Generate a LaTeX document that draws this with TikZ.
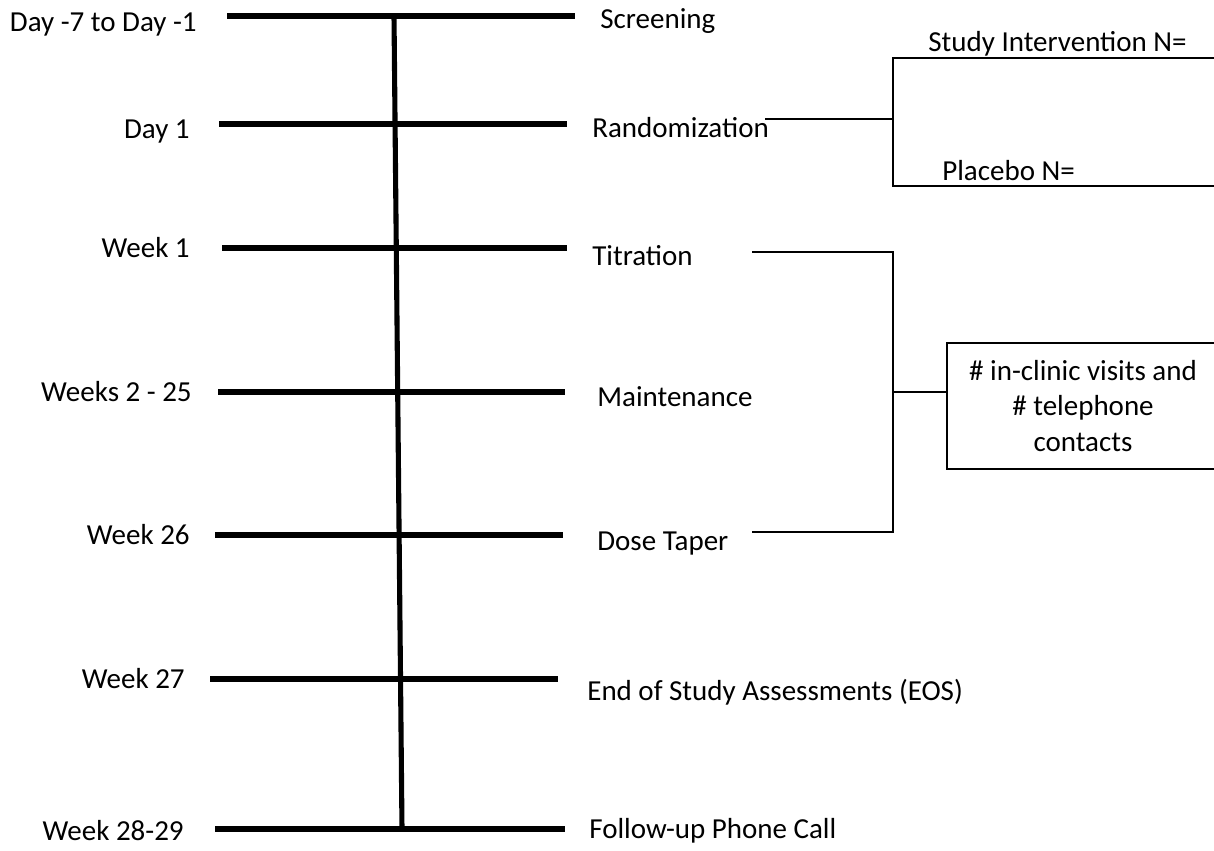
\documentclass[tikz,border=0pt]{standalone}
\usepackage{fontspec}
\setmainfont{Carlito}
\begin{document}
\begin{tikzpicture}[x=0.02cm,y=-0.02cm,
    every node/.style={inner sep=0pt,font=\fontsize{16.5}{20}\selectfont},
    bar/.style={line width=2.9pt},
    brace/.style={line width=1.4pt}]
  \useasboundingbox (0,0) rectangle (1214,850);
  % time points
  \draw
    (197,31) node[anchor=base east] (day0){Day -7 to Day -1}
    (190,138) node[anchor=base east] (day1){Day 1}
    (190,257) node[anchor=base east] (wk1){Week 1}
    (192,401) node[anchor=base east] (wk2){Weeks 2 - 25}
    (190,544) node[anchor=base east] (wk26){Week 26}
    (185,688) node[anchor=base east] (wk27){Week 27}
    (184,840) node[anchor=base east] (wk28){Week 28-29};
  % phases
  \draw
    (600,28) node[anchor=base west] (scr){Screening}
    (592,137) node[anchor=base west] (rand){Randomization}
    (592,265) node[anchor=base west] (titr){Titration}
    (597,406) node[anchor=base west] (maint){Maintenance}
    (597,550) node[anchor=base west] (taper){Dose Taper}
    (587,700) node[anchor=base west] (eos){End of Study Assessments (EOS)}
    (589,838) node[anchor=base west] (fup){Follow-up Phone Call}
    (928,51) node[anchor=base west] (drug){Study Intervention N=}
    (942,180) node[anchor=base west] (plac){Placebo N=};
  \node[draw,line width=1.2pt,minimum width=5.44cm,minimum height=2.52cm,
    align=center] (visits) at (1083,406)
    {\# in-clinic visits and\\ \# telephone\\ contacts};
  % bar ends
  \draw
    (227,16) coordinate (a0) (575,16) coordinate (b0)
    (219,124) coordinate (a1) (567,124) coordinate (b1)
    (222,248) coordinate (a2) (567,248) coordinate (b2)
    (218,392) coordinate (a3) (565,392) coordinate (b3)
    (215,535) coordinate (a4) (563,535) coordinate (b4)
    (210,679) coordinate (a5) (558,679) coordinate (b5)
    (215,829) coordinate (a6) (565,829) coordinate (b6)
    (394,16) coordinate (top) (402,829) coordinate (bot);
  \begin{scope}[bar]
    \draw (a0) to (b0);
    \draw (a1) to (b1);
    \draw (a2) to (b2);
    \draw (a3) to (b3);
    \draw (a4) to (b4);
    \draw (a5) to (b5);
    \draw (a6) to (b6);
    \draw (top) to (bot);
  \end{scope}
  % brackets
  \draw
    (765,119) coordinate (r0) (893,119) coordinate (r1)
    (1220,58) coordinate (r2) (1220,186) coordinate (r3)
    (752,252) coordinate (t0) (752,532) coordinate (t1)
    (893,392) coordinate (t2);
  \begin{scope}[brace]
    \draw (r0) to (r1);
    \draw (r2) -| (r1) |- (r3);
    \draw (t0) -| (t2) |- (t1);
    \draw (t2) to (t2 -| visits.west);
  \end{scope}
\end{tikzpicture}
\end{document}
